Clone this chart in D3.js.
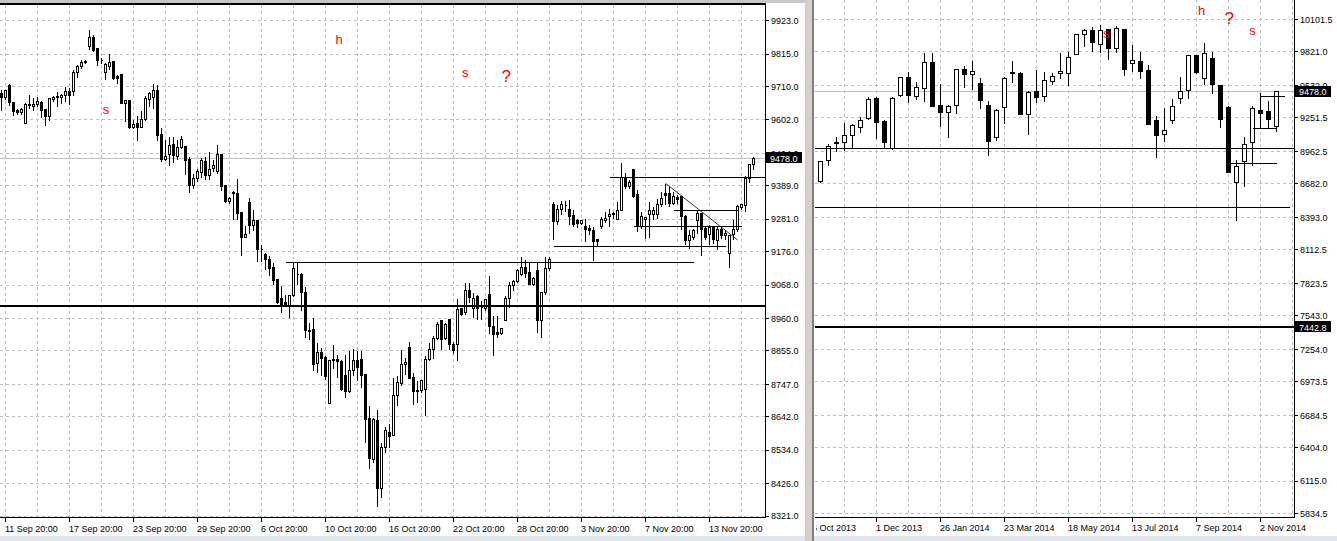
<!DOCTYPE html>
<html><head><meta charset="utf-8">
<script src="https://cdn.jsdelivr.net/npm/d3@7"></script>
<style>
body{margin:0;background:#fff;overflow:hidden}
svg{display:block}
text{font-family:"Liberation Sans",Arial,sans-serif}
</style>
</head><body>
<svg id="c" width="1337" height="541"></svg>
<script>
// ---------------- LEFT PANEL DATA (H4 bars) ----------------
const leftOpen = [9689,9675,9713,9660,9632,9626,9592,9653,9644,9653,9660,9636,9613,9669,9673,9674,9680,9694,9694,9754,9774,9792,9840,9870,9832,9795,9757,9775,9791,9743,9748,9656,9665,9578,9592,9576,9602,9669,9676,9697,9554,9475,9491,9522,9484,9513,9515,9473,9390,9414,9433,9468,9421,9444,9435,9489,9389,9338,9366,9365,9303,9223,9335,9260,9276,9184,9166,9151,9125,9085,9026,9010,9003,9033,9103,9103,9044,8920,8925,8814,8850,8834,8685,8826,8828,8821,8774,8723,8793,8825,8828,8780,8636,8505,8631,8410,8542,8591,8582,8710,8751,8810,8867,8769,8728,8728,8731,8826,8861,8896,8953,8896,8956,8877,8877,8993,8978,9050,8993,9030,8996,8993,9036,8934,8913,8910,8953,9025,9068,9079,9101,9125,9109,9071,9115,8953,9044,9122,9328,9274,9311,9324,9311,9292,9277,9268,9257,9251,9243,9214,9257,9277,9290,9295,9281,9309,9417,9387,9443,9360,9257,9281,9295,9295,9295,9328,9363,9365,9333,9352,9354,9290,9212,9223,9277,9301,9252,9230,9257,9212,9247,9228,9171,9230,9249,9320,9324,9412,9457];
const leftHigh = [9699,9702,9719,9660,9640,9642,9659,9683,9675,9677,9664,9640,9676,9680,9694,9689,9710,9707,9764,9781,9797,9797,9894,9878,9837,9804,9788,9816,9793,9748,9748,9669,9667,9602,9615,9632,9680,9694,9721,9718,9576,9538,9549,9549,9538,9551,9515,9484,9430,9446,9479,9484,9500,9473,9522,9495,9389,9354,9375,9414,9303,9260,9350,9311,9279,9198,9173,9165,9141,9087,9066,9039,9039,9144,9141,9109,9063,8947,8963,8882,8866,8841,8828,8875,8844,8828,8844,8855,8863,8855,8855,8780,8677,8639,8666,8558,8612,8621,8769,8774,8861,8834,8887,8785,8758,8764,8841,8882,8904,8949,8958,8947,8958,8885,9023,8996,9077,9077,9044,9039,9017,9025,9098,8969,8969,8931,9034,9079,9085,9122,9161,9150,9142,9095,9144,9044,9161,9161,9338,9328,9340,9340,9344,9313,9284,9279,9284,9263,9257,9216,9290,9306,9317,9306,9338,9465,9432,9408,9443,9376,9306,9290,9338,9322,9349,9371,9398,9387,9371,9360,9357,9295,9247,9250,9309,9303,9260,9263,9260,9257,9257,9247,9230,9279,9328,9333,9421,9462,9484];
const leftLow = [9633,9667,9648,9615,9619,9621,9592,9640,9634,9646,9611,9584,9600,9662,9646,9656,9662,9653,9680,9740,9770,9786,9829,9824,9778,9783,9734,9764,9732,9719,9654,9597,9575,9575,9536,9576,9600,9644,9640,9536,9468,9470,9455,9464,9473,9509,9427,9367,9381,9403,9417,9408,9408,9435,9430,9373,9335,9331,9279,9279,9162,9223,9236,9246,9144,9144,9119,9100,9071,9008,8980,8999,8963,9030,9071,8985,8898,8893,8790,8785,8776,8764,8685,8798,8769,8726,8704,8720,8774,8758,8737,8558,8474,8494,8353,8380,8526,8542,8582,8677,8742,8780,8767,8683,8688,8720,8645,8823,8829,8893,8861,8893,8861,8845,8823,8971,8974,9012,8963,8958,8958,8985,8910,8839,8899,8907,8953,8996,9050,9077,9098,9093,9071,9066,8915,8899,9039,9115,9214,9263,9295,9306,9263,9257,9255,9263,9209,9230,9147,9195,9252,9270,9257,9284,9279,9309,9381,9381,9352,9241,9252,9220,9222,9279,9284,9322,9328,9322,9328,9333,9247,9198,9187,9214,9236,9162,9214,9198,9203,9182,9220,9216,9126,9214,9241,9313,9306,9400,9441];
const leftClose = [9675,9697,9659,9629,9627,9637,9653,9650,9653,9662,9633,9613,9670,9675,9679,9680,9694,9681,9756,9775,9788,9788,9870,9826,9795,9794,9781,9789,9735,9736,9654,9664,9576,9588,9576,9602,9670,9687,9697,9552,9475,9484,9519,9487,9513,9540,9472,9390,9414,9434,9470,9422,9441,9455,9491,9387,9338,9349,9365,9300,9222,9230,9259,9276,9184,9183,9151,9122,9082,9012,9006,9003,9035,9120,9101,9044,8920,8919,8812,8850,8830,8771,8823,8825,8820,8731,8723,8790,8825,8801,8774,8634,8507,8634,8410,8542,8596,8578,8712,8753,8812,8817,8767,8723,8724,8758,8828,8861,8896,8939,8893,8939,8877,8856,8990,8974,9050,9028,9026,8993,8994,9020,8934,8907,8907,8929,9025,9068,9079,9115,9125,9104,9071,9090,8953,9044,9122,9150,9274,9313,9328,9325,9290,9263,9266,9277,9249,9243,9209,9209,9279,9284,9297,9301,9309,9417,9387,9401,9354,9257,9290,9287,9308,9308,9330,9349,9358,9333,9354,9344,9290,9212,9227,9244,9301,9249,9223,9255,9214,9249,9227,9236,9227,9247,9322,9328,9414,9457,9478];
const leftPriceTicks = [9923,9815,9710,9602,9494,9389,9281,9176,9068,8960,8855,8747,8642,8534,8426,8321];
const leftTimeLabels = ["11 Sep 20:00","17 Sep 20:00","23 Sep 20:00","29 Sep 20:00","6 Oct 20:00","10 Oct 20:00","16 Oct 20:00","22 Oct 20:00","28 Oct 20:00","3 Nov 20:00","7 Nov 20:00","13 Nov 20:00"];
const leftTimeBars = [1,17,33,49,65,81,97,113,129,145,161,177];
const leftLineFrom = [71,152,138,158,168];
const leftLineTo = [173,192,181,185,184];
const leftLinePrice = [9141,9416,9193,9258,9310];
const leftTrendBars = [166,184];
const leftTrendPrices = [9397,9214];
const leftLevel = 9001;
const lastPrice = 9478;
const leftNotes = ["h","s","s","?"];
const leftNoteBars = [83.5,25.3,115.1,125];
const leftNotePrices = [9848,9620,9742,9726];

// ---------------- RIGHT PANEL DATA (weekly bars) ----------------
const rightOpen = [8705,8879,9031,9041,9101,9167,9247,9420,9221,8984,9443,9597,9435,9503,9725,9358,9295,9355,9665,9628,9546,9358,9084,9341,9642,9631,9281,9477,9435,9563,9631,9631,9802,9968,10007,9888,10016,9851,10016,9717,9734,9660,9229,9107,9229,9418,9486,9788,9594,9762,9526,9344,8691,8876,9041,9318,9309,9175];
const rightHigh = [8885,9027,9087,9207,9198,9266,9435,9435,9241,9435,9611,9651,9563,9811,9811,9549,9363,9680,9702,9745,9603,9398,9332,9611,9745,9651,9486,9665,9651,9640,9817,9822,9982,10025,10039,10056,10025,10045,10016,9882,9822,9711,9275,9338,9420,9606,9799,9788,9902,9822,9531,9358,8890,9093,9355,9469,9398,9486];
const rightLow = [8691,8842,8962,8967,8990,9124,9241,9070,8990,8980,9435,9380,9406,9389,9345,9172,9081,9286,9509,9497,9332,8922,9056,9198,9560,9278,9107,9383,9395,9537,9589,9531,9797,9868,9822,9811,9754,9811,9617,9648,9591,9192,8913,9047,9201,9372,9420,9631,9537,9457,9170,8782,8366,8657,8842,9161,9161,9132];
const rightClose = [8870,9001,9035,9101,9187,9229,9412,9209,9038,9418,9597,9443,9517,9725,9352,9295,9349,9668,9628,9648,9398,9047,9315,9594,9638,9284,9469,9426,9571,9606,9651,9776,9968,10007,9902,10002,9851,10025,9671,9742,9654,9192,9098,9144,9349,9480,9788,9640,9805,9543,9238,8782,8828,9024,9335,9286,9238,9478];
const rightPriceTicks = [10101.5,9821.0,9532.0,9251.5,8962.5,8682.0,8393.0,8112.5,7823.5,7543.0,7254.0,6973.5,6684.5,6404.0,6115.0,5834.5];
const rightTimeLabels = ["6 Oct 2013","1 Dec 2013","26 Jan 2014","23 Mar 2014","18 May 2014","13 Jul 2014","7 Sep 2014","2 Nov 2014"];
const rightTimeBars = [-1,7,15,23,31,39,47,55];
const rightLineFrom = [-3,-3,51,55,54];
const rightLineTo = [60,58.7,57,58,57];
const rightLinePrice = [8990,8481,8860,9439,9156];
const rightLevel = 7442.8;
const rightNotes = ["h","?","s","s"];
const rightNoteBars = [47.2,50.5,53.6,35.3];
const rightNotePrices = [10137,10060,9965,9937];

// ---------------- DRAWING ----------------
const svg = d3.select("#c");
const snap = v => Math.round(v - 0.5) + 0.5;
const fmt = d3.format(".1f");
const FONT = 9;

function drawPanel(p){
  const x = p.x, y = p.y;
  const clipId = p.id + "-clip";
  svg.append("clipPath").attr("id", clipId).append("rect")
    .attr("x", p.left).attr("y", p.top).attr("width", p.right - p.left).attr("height", p.bottom - p.top);
  const labClip = p.id + "-lclip";
  svg.append("clipPath").attr("id", labClip).append("rect")
    .attr("x", p.left + 1).attr("y", p.bottom).attr("width", p.axisX - p.left + 40).attr("height", 30);
  const plot = svg.append("g").attr("clip-path", `url(#${clipId})`).attr("shape-rendering","crispEdges");

  // vertical grid
  plot.append("g").selectAll("line").data(p.gridBars).join("line")
    .attr("x1", d => x(d)).attr("x2", d => x(d))
    .attr("y1", p.top).attr("y2", p.bottom)
    .attr("stroke", "#c0c0c0").attr("stroke-dasharray", "3,3");
  // horizontal grid
  plot.append("g").selectAll("line").data(p.ticks).join("line")
    .attr("x1", p.left).attr("x2", p.right)
    .attr("y1", d => snap(y(d))).attr("y2", d => snap(y(d)))
    .attr("stroke", "#c0c0c0").attr("stroke-dasharray", "3,3");
  // last price line
  plot.append("line").attr("x1", p.left).attr("x2", p.right)
    .attr("y1", snap(y(lastPrice))).attr("y2", snap(y(lastPrice)))
    .attr("stroke", "#c0c0c0");

  // candles
  const bars = d3.range(p.open.length).map(i => ({i, o:p.open[i], h:p.high[i], l:p.low[i], c:p.close[i]}));
  plot.append("g").selectAll("line").data(bars).join("line")
    .attr("x1", d => x(d.i)).attr("x2", d => x(d.i))
    .attr("y1", d => snap(y(d.h))).attr("y2", d => snap(y(d.l)) + 0.01)
    .attr("stroke", "#000");
  plot.append("g").selectAll("path").data(bars).join("path")
    .attr("d", d => {
      const x0 = x(d.i) - p.hw, x1 = x(d.i) + p.hw;
      const y0 = snap(Math.min(y(d.o), y(d.c))), y1 = snap(Math.max(y(d.o), y(d.c)));
      return `M${x0},${y0}H${x1}V${y1}H${x0}Z`;
    })
    .attr("fill", d => d.c >= d.o ? "#fff" : "#000")
    .attr("stroke", "#000");

  // horizontal drawn lines
  plot.append("g").selectAll("line").data(p.lineFrom).join("line")
    .attr("x1", (d) => x(d)).attr("x2", (d, k) => x(p.lineTo[k]))
    .attr("y1", (d, k) => snap(y(p.linePrice[k]))).attr("y2", (d, k) => snap(y(p.linePrice[k])))
    .attr("stroke", "#000");
  if (p.trendBars) {
    plot.append("line")
      .attr("x1", x(p.trendBars[0])).attr("y1", y(p.trendPrices[0]))
      .attr("x2", x(p.trendBars[1])).attr("y2", y(p.trendPrices[1]))
      .attr("stroke", "#000").attr("stroke-width", 0.8).attr("shape-rendering","auto");
  }
  // thick level
  const ly = Math.round(y(p.level));
  plot.append("line").attr("x1", p.left).attr("x2", p.right)
    .attr("y1", ly).attr("y2", ly).attr("stroke", "#000").attr("stroke-width", 2);

  // notes
  const notes = svg.append("g").attr("clip-path", `url(#${clipId})`);
  notes.selectAll("text").data(p.notes).join("text")
    .attr("x", (d, k) => x(p.noteBars[k])).attr("y", (d, k) => y(p.notePrices[k]))
    .attr("fill", "#ff0000")
    .attr("font-size", d => d === "?" ? 17 : 13)
    .text(d => d);

  // axes lines
  const fr = svg.append("g").attr("shape-rendering","crispEdges");
  fr.append("line").attr("x1", p.left).attr("x2", p.axisX + 0.5).attr("y1", p.bottom + 0.5).attr("y2", p.bottom + 0.5).attr("stroke", "#000");
  fr.append("line").attr("x1", p.axisX + 0.5).attr("x2", p.axisX + 0.5).attr("y1", p.top).attr("y2", p.bottom + 1).attr("stroke", "#000");

  // y axis labels and ticks
  fr.append("g").selectAll("line").data(p.ticks).join("line")
    .attr("x1", p.axisX + 1).attr("x2", p.axisX + 4)
    .attr("y1", d => snap(y(d))).attr("y2", d => snap(y(d))).attr("stroke", "#000");
  svg.append("g").selectAll("text").data(p.ticks).join("text")
    .attr("x", p.axisX + 6).attr("y", d => y(d) + 3.3)
    .attr("font-size", FONT).attr("fill", "#000")
    .text(d => fmt(d));

  // x axis ticks and labels
  fr.append("g").selectAll("line").data(p.timeBars).join("line")
    .attr("x1", d => x(d)).attr("x2", d => x(d))
    .attr("y1", p.bottom + 1).attr("y2", p.bottom + 5).attr("stroke", "#000");
  svg.append("g").attr("clip-path", `url(#${labClip})`).selectAll("text").data(p.timeLabels).join("text")
    .attr("x", (d, k) => x(p.timeBars[k]) - 0.5).attr("y", p.bottom + p.labelDy)
    .attr("font-size", FONT).attr("fill", "#000")
    .text(d => d);

  // price boxes
  const boxes = [{v:lastPrice}].concat(p.levelBox ? [{v:p.level}] : []);
  boxes.forEach(b => {
    const cy = y(b.v);
    svg.append("rect").attr("x", p.axisX + 1).attr("y", Math.round(cy) - 6).attr("width", p.boxW).attr("height", 11)
      .attr("fill", "#000").attr("shape-rendering","crispEdges");
    svg.append("text").attr("x", p.axisX + 5).attr("y", cy + 3.3)
      .attr("font-size", FONT).attr("fill", "#fff").text(fmt(b.v));
  });
}

// window chrome
svg.append("rect").attr("x", 0).attr("y", 0).attr("width", 1337).attr("height", 541).attr("fill", "#fff");

const xL = d3.scaleLinear().domain([0, 188]).range([1.5, 753.5]);
const yL = d3.scaleLinear().domain([8321, 9923]).range([516, 20.7]);
drawPanel({
  id:"L", x:xL, y:yL, left:0, right:765, top:5, bottom:517, axisX:765, hw:1,
  open:leftOpen, high:leftHigh, low:leftLow, close:leftClose,
  ticks:leftPriceTicks, gridBars:d3.range(1, 188, 8),
  timeBars:leftTimeBars, timeLabels:leftTimeLabels, labelDy:14.5,
  lineFrom:leftLineFrom, lineTo:leftLineTo, linePrice:leftLinePrice,
  trendBars:leftTrendBars, trendPrices:leftTrendPrices, level:leftLevel, levelBox:false,
  notes:leftNotes, noteBars:leftNoteBars, notePrices:leftNotePrices, boxW:36
});

const xR = d3.scaleLinear().domain([0, 57]).range([820.5, 1276.5]);
const yR = d3.scaleLinear().domain([5834.5, 10101.5]).range([513.7, 19.3]);
drawPanel({
  id:"R", x:xR, y:yR, left:815, right:1294, top:0, bottom:517, axisX:1294, hw:2,
  open:rightOpen, high:rightHigh, low:rightLow, close:rightClose,
  ticks:rightPriceTicks, gridBars:d3.range(-1, 60, 4),
  timeBars:rightTimeBars, timeLabels:rightTimeLabels, labelDy:13.5,
  lineFrom:rightLineFrom, lineTo:rightLineTo, linePrice:rightLinePrice,
  level:rightLevel, levelBox:true,
  notes:rightNotes, noteBars:rightNoteBars, notePrices:rightNotePrices, boxW:36
});

// chrome on top
const chrome = svg.append("g").attr("shape-rendering","crispEdges");
chrome.append("rect").attr("x", 0).attr("y", 0).attr("width", 805).attr("height", 3).attr("fill", "#c8c8c8");
chrome.append("rect").attr("x", 0).attr("y", 3).attr("width", 766).attr("height", 1.5).attr("fill", "#000");
chrome.append("rect").attr("x", 805).attr("y", 0).attr("width", 8).attr("height", 541).attr("fill", "#d4d0c8");
chrome.append("rect").attr("x", 812).attr("y", 0).attr("width", 2).attr("height", 541).attr("fill", "#808080");
chrome.append("rect").attr("x", 0).attr("y", 536).attr("width", 805).attr("height", 5).attr("fill", "#dfe6ee");
chrome.append("rect").attr("x", 814).attr("y", 536).attr("width", 523).attr("height", 5).attr("fill", "#dfe6ee");
</script>
</body></html>
